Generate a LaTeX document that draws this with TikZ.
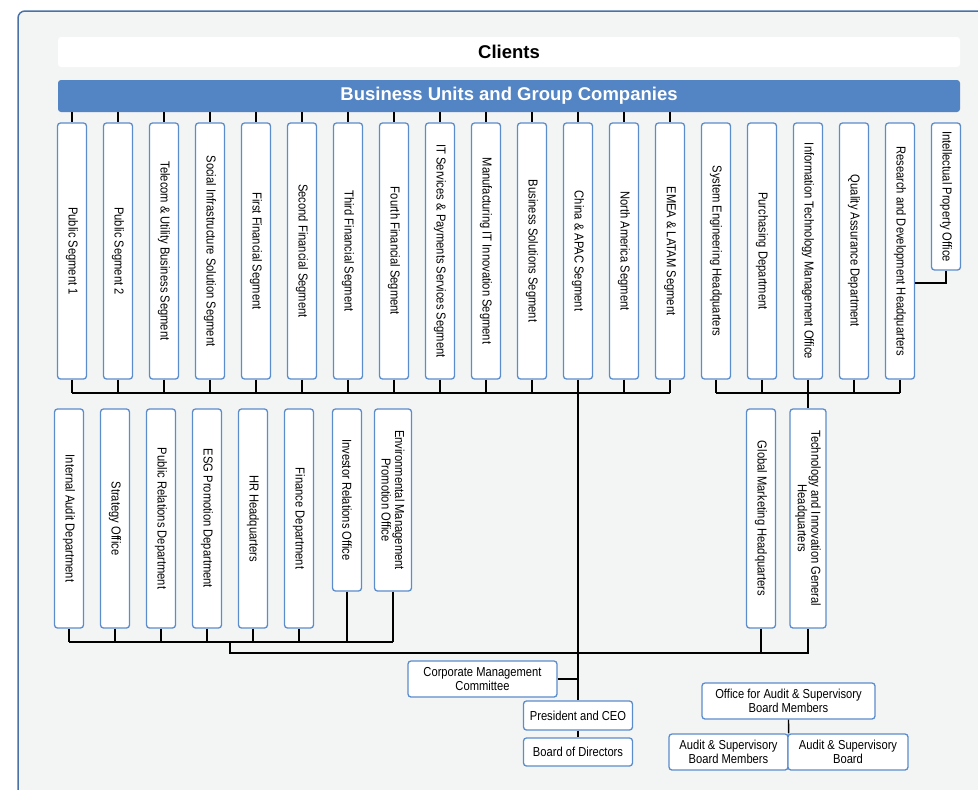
\documentclass[tikz,border=0pt]{standalone}
\usepackage{fontspec}
\setmainfont{Liberation Sans}[FakeStretch=0.86]
\newfontfamily\headfont{Liberation Sans}
\usepackage{tikz}
\usetikzlibrary{positioning}
\definecolor{panelgray}{HTML}{F3F4F4}
\definecolor{panelblue}{HTML}{4A72A6}
\definecolor{boxblue}{HTML}{5B8DCD}
\definecolor{barblue}{HTML}{5384C4}
\newcommand{\orgfont}{\fontsize{13}{13.5}\selectfont}

\begin{document}
\begin{tikzpicture}[x=1pt, y=-1pt,
  orgbox/.style={draw=boxblue, fill=white, line width=1.3pt, rounded corners=3pt, inner sep=0pt, font=\orgfont, align=center},
  vbox/.style={orgbox, minimum width=29, minimum height=#1},
  vtext/.style={rotate=-90, inner sep=0pt, font=\orgfont, align=center},
  headbar/.style={rounded corners=3pt, minimum width=902, inner sep=0pt, font=\headfont\bfseries\fontsize{18.5}{20}\selectfont},
  link/.style={line width=1.4pt, black}]
  \useasboundingbox (0,0) rectangle (978,790);
  \draw[panelblue, fill=panelgray, line width=1.5pt, rounded corners=7pt] (18,11) rectangle (1000,820);

  \node[headbar, fill=white, minimum height=30] (clients) at (509,52) {Clients};
  \node[headbar, fill=barblue, text=white, minimum height=32] (bu) at (509,96) {Business Units and Group Companies};

  \node[vbox=256, label={[vtext]center:Public Segment 1}] (t0) at (72,251) {};
  \node[vbox=256, label={[vtext]center:Public Segment 2}] (t1) at (118,251) {};
  \node[vbox=256, label={[vtext]center:Telecom \& Utility Business Segment}] (t2) at (164,251) {};
  \node[vbox=256, label={[vtext]center:Social Infrastructure Solution Segment}] (t3) at (210,251) {};
  \node[vbox=256, label={[vtext]center:First Financial Segment}] (t4) at (256,251) {};
  \node[vbox=256, label={[vtext]center:Second Financial Segment}] (t5) at (302,251) {};
  \node[vbox=256, label={[vtext]center:Third Financial Segment}] (t6) at (348,251) {};
  \node[vbox=256, label={[vtext]center:Fourth Financial Segment}] (t7) at (394,251) {};
  \node[vbox=256, label={[vtext]center:IT Services \& Payments Services Segment}] (t8) at (440,251) {};
  \node[vbox=256, label={[vtext]center:Manufacturing IT Innovation Segment}] (t9) at (486,251) {};
  \node[vbox=256, label={[vtext]center:Business Solutions Segment}] (t10) at (532,251) {};
  \node[vbox=256, label={[vtext]center:China \& APAC Segment}] (t11) at (578,251) {};
  \node[vbox=256, label={[vtext]center:North America Segment}] (t12) at (624,251) {};
  \node[vbox=256, label={[vtext]center:EMEA \& LATAM Segment}] (t13) at (670,251) {};
  \node[vbox=256, label={[vtext]center:System Engineering Headquarters}] (t14) at (716,251) {};
  \node[vbox=256, label={[vtext]center:Purchasing Department}] (t15) at (762,251) {};
  \node[vbox=256, label={[vtext]center:Information Technology Management Office}] (t16) at (808,251) {};
  \node[vbox=256, label={[vtext]center:Quality Assurance Department}] (t17) at (854,251) {};
  \node[vbox=256, label={[vtext]center:Research and Development Headquarters}] (t18) at (900,251) {};
  \node[vbox=147, label={[vtext]center:Intellectual Property Office}] (t19) at (946,196.5) {};

  \node[vbox=219, label={[vtext]center:Internal Audit Department}] (b0) at (69,518.5) {};
  \node[vbox=219, label={[vtext]center:Strategy Office}] (b1) at (115,518.5) {};
  \node[vbox=219, label={[vtext]center:Public Relations Department}] (b2) at (161,518.5) {};
  \node[vbox=219, label={[vtext]center:ESG Promotion Department}] (b3) at (207,518.5) {};
  \node[vbox=219, label={[vtext]center:HR Headquarters}] (b4) at (253,518.5) {};
  \node[vbox=219, label={[vtext]center:Finance Department}] (b5) at (299,518.5) {};
  \node[vbox=182, label={[vtext]center:Investor Relations Office}] (b6) at (347,500) {};
  \node[vbox=182, minimum width=37, label={[vtext]center:{Environmental Management\\Promotion Office}}] (b7) at (393,500) {};
  \node[vbox=219, label={[vtext]center:Global Marketing Headquarters}] (gm) at (761,518.5) {};
  \node[vbox=219, minimum width=36, label={[vtext]center:{Technology and Innovation General\\Headquarters}}] (ti) at (808,518.5) {};

  \node[orgbox, minimum width=149, minimum height=36] (cmc) at (482.5,679) {Corporate Management\\Committee};
  \node[orgbox, minimum width=109, minimum height=29] (ceo) at (578,715.5) {President and CEO};
  \node[orgbox, minimum width=109, minimum height=28] (bod) at (578,752) {Board of Directors};
  \node[orgbox, minimum width=173, minimum height=36] (oasb) at (788.5,701) {Office for Audit \& Supervisory\\Board Members};
  \node[orgbox, minimum width=119, minimum height=36] (asbm) at (728.5,752) {Audit \& Supervisory\\Board Members};
  \node[orgbox, minimum width=120, minimum height=36] (asb) at (848,752) {Audit \& Supervisory\\Board};

  \coordinate (bus1) at (0,393);
  \coordinate (bus2) at (0,642);
  \coordinate (bus3) at (0,653);
  \coordinate (join) at (230,642);
  \foreach \i in {0,...,13} \draw[link] (bu.south -| t\i.north) -- (t\i.north);
  \foreach \i in {0,...,18} \draw[link] (t\i.south) -- (t\i.south |- bus1);
  \draw[link] (t0.south |- bus1) -- (t13.south |- bus1);
  \draw[link] (t14.south |- bus1) -- (t18.south |- bus1);
  \draw[link] (ti.north |- bus1) -- (ti.north);
  \draw[link] (t19.south) |- (t18.east |- 0,283);
  \draw[link] (t11.south |- bus1) -- (ceo.north);
  \foreach \i in {0,...,7} \draw[link] (b\i.south) -- (b\i.south |- bus2);
  \draw[link] (b0.south |- bus2) -- (b7.south |- bus2);
  \draw[link] (join) |- (ti.south |- bus3) -- (ti.south);
  \draw[link] (gm.south) -- (gm.south |- bus3);
  \draw[link] (cmc.east) -- (cmc.east -| t11.south);
  \draw[link] (ceo.south) -- (bod.north);
  \draw[link] (oasb.south) -- (asbm.north east);
\end{tikzpicture}
\end{document}
